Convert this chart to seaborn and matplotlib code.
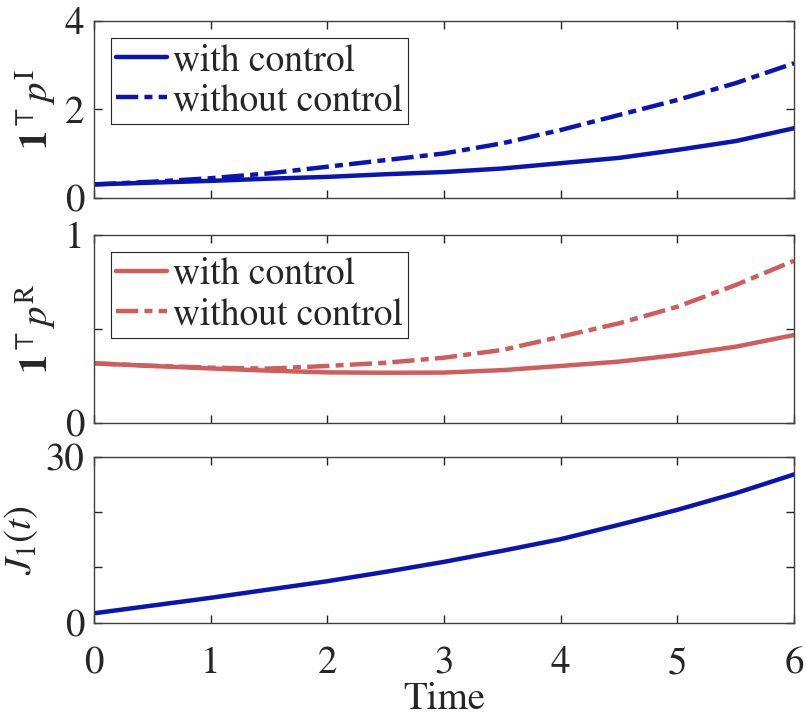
import numpy as np
import pandas as pd
import matplotlib
matplotlib.use("Agg")
import matplotlib.pyplot as plt
import seaborn as sns

# ------------------------------
# Data
# ------------------------------
time = [0.0, 0.5, 1.0, 1.5, 2.0, 2.5, 3.0, 3.5, 4.0, 4.5, 5.0, 5.5, 6.0]

pI_with = [0.30, 0.34, 0.38, 0.43, 0.47, 0.53, 0.58, 0.66, 0.78, 0.90, 1.08, 1.28, 1.57]
pI_without = [0.30, 0.36, 0.44, 0.55, 0.70, 0.85, 1.00, 1.23, 1.53, 1.87, 2.21, 2.59, 3.04]

pR_with = [0.318, 0.304, 0.291, 0.279, 0.270, 0.268, 0.269, 0.282, 0.304, 0.327, 0.362, 0.406, 0.468]
pR_without = [0.318, 0.305, 0.295, 0.290, 0.304, 0.321, 0.348, 0.389, 0.459, 0.530, 0.618, 0.733, 0.862]

J1 = [1.7, 3.1, 4.5, 6.0, 7.5, 9.2, 11.0, 13.0, 15.1, 17.7, 20.4, 23.4, 26.8]

legend_labels = ["with control", "without control"]
blue = "#0a14b4"
red = "#d05c5c"

# ------------------------------
# Style
# ------------------------------
sns.set_style("ticks")
plt.rcParams["font.family"] = ["STIXGeneral", "Liberation Serif", "DejaVu Serif"]
plt.rcParams["mathtext.fontset"] = "stix"
plt.rcParams["xtick.direction"] = "in"
plt.rcParams["ytick.direction"] = "in"
plt.rcParams["axes.edgecolor"] = "#404040"
plt.rcParams["xtick.color"] = "#262626"
plt.rcParams["ytick.color"] = "#262626"

fig = plt.figure(figsize=(8.06, 7.17), dpi=100)
left, width = 0.1166, 0.8685
ax1 = fig.add_axes([left, 0.7243, width, 0.2467])
ax2 = fig.add_axes([left, 0.4096, width, 0.2631])
ax3 = fig.add_axes([left, 0.1315, width, 0.2315])

lw = 3.2
dd = (5.0, 1.4, 1.8, 1.4)

df1 = pd.DataFrame({"t": time, "with": pI_with, "without": pI_without})
sns.lineplot(data=df1, x="t", y="with", ax=ax1, color=blue, lw=lw, label=legend_labels[0])
sns.lineplot(data=df1, x="t", y="without", ax=ax1, color=blue, lw=lw, label=legend_labels[1])
ax1.lines[1].set_dashes(dd)
ax1.set_ylim(0, 4)
ax1.set_yticks([0, 2, 4])
ax1.set_ylabel(r"$\mathbf{1}^{\top}p^{\mathrm{I}}$", fontsize=28)

df2 = pd.DataFrame({"t": time, "with": pR_with, "without": pR_without})
sns.lineplot(data=df2, x="t", y="with", ax=ax2, color=red, lw=lw, label=legend_labels[0])
sns.lineplot(data=df2, x="t", y="without", ax=ax2, color=red, lw=lw, label=legend_labels[1])
ax2.lines[1].set_dashes(dd)
ax2.set_ylim(0, 1)
ax2.set_yticks([0, 0.5, 1])
ax2.set_yticklabels(["0", "", "1"])
ax2.set_ylabel(r"$\mathbf{1}^{\top}p^{\mathrm{R}}$", fontsize=28)

df3 = pd.DataFrame({"t": time, "J": J1})
sns.lineplot(data=df3, x="t", y="J", ax=ax3, color=blue, lw=lw)
ax3.set_ylim(0, 30)
ax3.set_yticks([0, 10, 20, 30])
ax3.set_yticklabels(["0", "", "", "30"])
ax3.set_ylabel(r"$J_1(t)$", fontsize=28)
ax3.set_xlabel("Time", fontsize=28, labelpad=1)

for ax in (ax1, ax2, ax3):
    ax.set_xlim(0, 6)
    ax.set_xticks(range(7))
    ax.tick_params(axis="both", which="both", top=True, right=True, length=6, width=1,
                   labelsize=28, pad=7)
    ax.tick_params(axis="x", pad=17)
    for s in ax.spines.values():
        s.set_visible(True)
        s.set_linewidth(1.0)
    if ax is not ax3:
        ax.set_xticklabels([])
        ax.set_xlabel("")
        leg = ax.legend(loc="upper left", fontsize=27, frameon=True, fancybox=False,
                        framealpha=1, edgecolor="#262626", handlelength=1.35,
                        handletextpad=0.15, borderpad=0.15, labelspacing=0.15,
                        borderaxespad=0.45)
        leg.get_frame().set_linewidth(0.8)

fig.savefig("out.png", dpi=100)
